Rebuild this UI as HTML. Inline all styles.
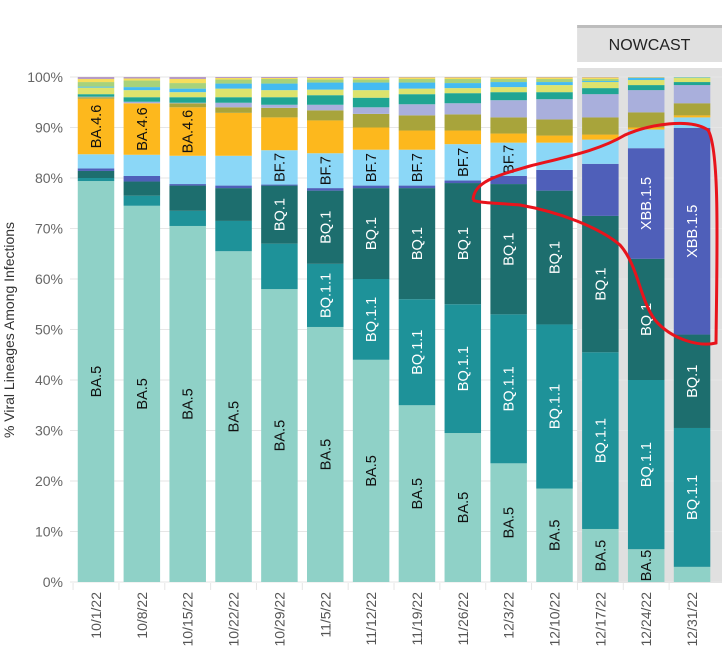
<!DOCTYPE html>
<html><head><meta charset="utf-8">
<style>
html,body{margin:0;padding:0;background:#fff;}
svg{display:block;font-family:"Liberation Sans",Arial,sans-serif;}
</style></head>
<body>
<svg id="chart" width="722" height="662" viewBox="0 0 722 662" xmlns="http://www.w3.org/2000/svg">
<g id="bg"></g>
<g id="grid"></g>
<g id="bars"></g>
<g id="labels"></g>
<g id="axes"></g>
</svg>
<script>
const categories = ["10/1/22","10/8/22","10/15/22","10/22/22","10/29/22","11/5/22","11/12/22","11/19/22","11/26/22","12/3/22","12/10/22","12/17/22","12/24/22","12/31/22"];
const lineages = ["BA.5","BQ.1.1","BQ.1","XBB.1.5","BF.7","BA.4.6","BN.1","BA.2.75.2","BA.4.6.3","BA.5.2.6","BF.11","BA.2.75","BQ.1.1.x","Other"];
const colors = ["#8fd1c7","#1e9299","#1d6e6e","#4f5fb9","#8bd7f7","#fdb81d","#a8a43b","#a9afdc","#1fa593","#dde36d","#44bbf2","#a8d27a","#f7de5c","#b79bc4"];
const labelMin = [6,10,10,15,6,9,999,999,999,999,999,999,999,999];
const labelWhite = [false,true,true,true,false,false,false,false,false,false,false,false,false,false];
const sBA5   = [79.4,74.5,70.5,65.5,58,50.5,44,35,29.5,23.5,18.5,10.5,6.5,3];
const sBQ11  = [0.6,2,3,6,9,12.5,16,21,25.5,29.5,32.5,35,33.5,27.5];
const sBQ1   = [1.4,2.8,5,6.5,11.5,14.5,18,22,24,25.8,26.5,27,24,18.5];
const sXBB   = [0.5,1.1,0.3,0.5,0.2,0.5,0.5,0.5,0.5,1.6,4.1,10.3,21.9,40.9];
const sBF7   = [2.8,4.2,5.6,5.9,6.8,6.9,7.1,7.1,7.2,6.6,5.4,4.8,3.7,2.1];
const sBA46  = [11,10.2,9.6,8.5,6.5,6.5,4.4,3.8,2.7,1.8,1.4,1,0.4,0.4];
const sOlive = [0.3,0,0.8,1.1,1.9,2,2.7,3,3.2,3.2,3.2,3.4,3,2.4];
const sLav   = [0.1,0.3,0.1,0.9,0.6,1.1,1.3,2.2,2.2,3.4,4,4.6,4.4,3.6];
const sTeal2 = [0.5,0.9,1.1,1.1,1.5,1.9,1.9,2,2,1.6,1.4,1.2,1,0.6];
const sYG    = [1.3,1.4,1,1.7,1.4,1.1,1.5,1.1,1,1,1.4,1.2,1,0.8];
const sSky   = [0.2,0.6,0.7,1,1.3,1.4,1.5,1.2,1,1,0.6,0.2,0.4,0.1];
const sLG    = [0.9,1.3,1.1,0.8,0.9,0.6,0.6,0.7,0.8,0.6,0.6,0.4,0.1,0.05];
const sYel   = [0.6,0.4,0.8,0.3,0.2,0.3,0.3,0.3,0.3,0.3,0.3,0.3,0.05,0.05];
const sOther = [0.4,0.3,0.4,0.2,0.2,0.2,0.2,0.1,0.1,0.1,0.1,0.1,0.05,0.05];
const series = [sBA5,sBQ11,sBQ1,sXBB,sBF7,sBA46,sOlive,sLav,sTeal2,sYG,sSky,sLG,sYel,sOther];
const yTicks = [0,10,20,30,40,50,60,70,80,90,100];
const nowcastStart = 11;

const NS="http://www.w3.org/2000/svg";
const y0=582, y100=77, x0=96, step=45.85, bw=36.5;
const yS = v => y0 - (y0-y100)*v/100;
const xC = i => x0 + i*step;
function mk(tag, attrs, parent){const e=document.createElementNS(NS,tag);for(const k in attrs)e.setAttribute(k,attrs[k]);parent.appendChild(e);return e;}
const gBg=document.getElementById('bg'),gGrid=document.getElementById('grid'),gBars=document.getElementById('bars'),gLab=document.getElementById('labels'),gAx=document.getElementById('axes');

const nx = xC(nowcastStart)-bw/2-5;
const nr = mk('rect',{x:nx,y:68,width:722-nx,height:y0-68+1,fill:"#e0e0e0"},gBg);


const nh = mk('rect',{x:nx,y:27,width:722-nx,height:35,fill:"#e0e0e0"},gBg);


const nb = mk('rect',{x:nx,y:25,width:722-nx,height:3,fill:"#bdbdbd"},gBg);


const nt = mk('text',{x:(nx+722)/2,y:50,"text-anchor":"middle","font-size":16,fill:"#222"},gBg);
nt.textContent="NOWCAST";



yTicks.forEach(t=>{
  const l=mk('line',{x1:70,x2:722,y1:yS(t),y2:yS(t),stroke:"#e6e6e6","stroke-width":1},gGrid);
  
  
  const tx=mk('text',{x:63,y:yS(t)+5,"text-anchor":"end","font-size":14,fill:"#666"},gAx);
  tx.textContent=t+"%";
  
  
});
const yt=mk('text',{transform:"translate(14,330) rotate(-90)","text-anchor":"middle","font-size":14,fill:"#333"},gAx);
yt.textContent="% Viral Lineages Among Infections";



categories.forEach((c,i)=>{
  let cum=0;
  const bx=xC(i)-bw/2;
  series.forEach((s,k)=>{
    const v=s[i];
    const top=Math.min(100,cum+v);
    const r=mk('rect',{x:bx,y:yS(top),width:bw,height:Math.max(0,yS(cum)-yS(top)),fill:colors[k]},gBars);
    
    
    if(v>=labelMin[k]){
      const cy=(yS(cum)+yS(top))/2;
      const t=mk('text',{transform:`translate(${xC(i)+5},${cy}) rotate(-90)`,"text-anchor":"middle","font-size":14.5,fill:labelWhite[k]?"#fff":"#111"},gLab);
      t.textContent=lineages[k];
      
      
    }
    cum=top;
  });
  const xl=mk('text',{transform:`translate(${xC(i)+5},592) rotate(-90)`,"text-anchor":"end","font-size":14,fill:"#555"},gAx);
  xl.textContent=c;
  
  
  const sep=mk('line',{x1:xC(i)-step/2,x2:xC(i)-step/2,y1:583,y2:590,stroke:"#e6e6e6"},gAx);
  
  
});

const ann=mk('path',{d:"M473,200 C474,182 495,176 530,166 C570,156 600,150 625,135 C650,124 690,118 708,130 C720,150 717,250 716,343 C700,347 672,340 655,320 C640,300 638,265 620,245 C600,228 560,212 520,205 C495,203 478,203 473,200",fill:"none",stroke:"#e8141c","stroke-width":3},gLab);


</script>
</body></html>
